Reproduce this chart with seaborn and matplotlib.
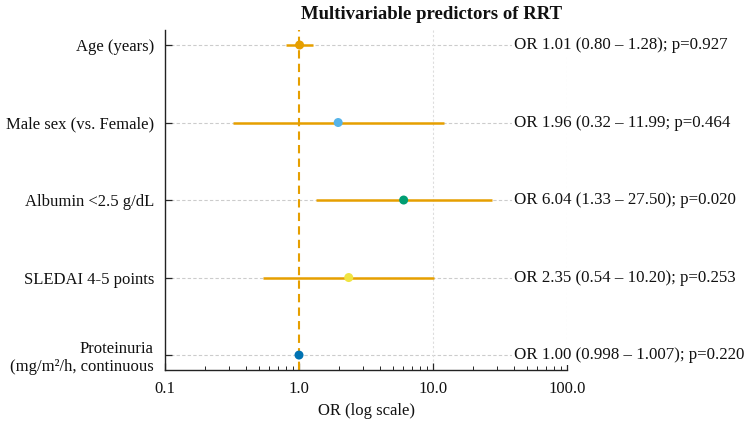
import matplotlib
matplotlib.use("Agg")
import matplotlib.pyplot as plt
import matplotlib.transforms as mtransforms
from matplotlib.ticker import LogLocator, NullFormatter, FixedLocator
import seaborn as sns
import pandas as pd
import numpy as np

# data
predictors = ["Age (years)", "Male sex (vs. Female)", "Albumin <2.5 g/dL",
              "SLEDAI 4-5 points", "Proteinuria\n(mg/m\u00b2/h, continuous"]
odds_ratio = [1.01, 1.96, 6.04, 2.35, 1.00]
ci_low = [0.80, 0.32, 1.33, 0.54, 0.998]
ci_high = [1.28, 11.99, 27.50, 10.20, 1.007]
or_labels = ["OR 1.01 (0.80 \u2013 1.28); p=0.927",
             "OR 1.96 (0.32 \u2013 11.99; p=0.464",
             "OR 6.04 (1.33 \u2013 27.50); p=0.020",
             "OR 2.35 (0.54 \u2013 10.20); p=0.253",
             "OR 1.00 (0.998 \u2013 1.007); p=0.220"]
point_colors = ["#E69F00", "#56B4E9", "#009E73", "#F0E442", "#0072B2"]

df = pd.DataFrame({"Predictor": predictors, "OR": odds_ratio,
                   "lo": ci_low, "hi": ci_high})
df["pos"] = np.arange(len(df))

sns.set_theme(style="ticks")
plt.rcParams["font.family"] = ["Liberation Serif", "DejaVu Serif"]

fig, ax = plt.subplots(figsize=(7.5, 4.22), dpi=100)
fig.subplots_adjust(left=0.22, right=0.756, top=0.929, bottom=0.123)

ax.set_xscale("log")

# gridlines
for y in df["pos"]:
    ax.axhline(y, color="#cccccc", ls=(0, (3, 2)), lw=0.8, zorder=0)
for x in [10, 100]:
    ax.axvline(x, color="#dddddd", ls=(0, (2, 2)), lw=0.8, zorder=0)

# reference line at OR = 1
ax.axvline(1, color="#E69F00", ls=(0, (4, 2.5)), lw=1.5, zorder=1)

# confidence intervals
ax.hlines(df["pos"], df["lo"], df["hi"], color="#E69F00", lw=1.8, zorder=2)

# point estimates
sns.scatterplot(data=df, x="OR", y="pos", hue="Predictor", palette=point_colors,
                s=42, edgecolor="none", legend=False, zorder=3, ax=ax)

ax.set_xlim(0.1, 100)
ax.set_ylim(len(df) - 1 + 0.194, -0.194)
ax.set_yticks(df["pos"])
ax.set_yticklabels(predictors, fontsize=12, linespacing=1.15, color="#111111")
ax.xaxis.set_major_locator(FixedLocator([0.1, 1, 10, 100]))
ax.set_xticklabels(["0.1", "1.0", "10.0", "100.0"], fontsize=12, color="#111111")
ax.xaxis.set_minor_locator(LogLocator(base=10, subs=np.arange(2, 10)))
ax.xaxis.set_minor_formatter(NullFormatter())
ax.tick_params(axis="both", which="major", direction="in", length=5, width=0.9, pad=8)
ax.tick_params(axis="x", which="minor", direction="in", length=3, width=0.7)
ax.set_xlabel("OR (log scale)", fontsize=12, labelpad=4, color="#111111")
ax.set_ylabel("")
sns.despine(ax=ax)
for sp in ["left", "bottom"]:
    ax.spines[sp].set_linewidth(1.0)
    ax.spines[sp].set_color("#222222")

# OR annotations to the right
trans = mtransforms.blended_transform_factory(ax.transData, ax.transData)
for y, lab in zip(df["pos"], or_labels):
    ax.text(40, y, lab, transform=trans, ha="left", va="center", fontsize=12.2,
            color="#111111",
            bbox=dict(facecolor="white", edgecolor="none", pad=1.5), zorder=5,
            clip_on=False)

fig.text(0.575, 0.965, "Multivariable predictors of RRT", ha="center", va="center",
         fontsize=13.5, fontweight="bold", color="#111111")

fig.savefig("out.png", dpi=100)
